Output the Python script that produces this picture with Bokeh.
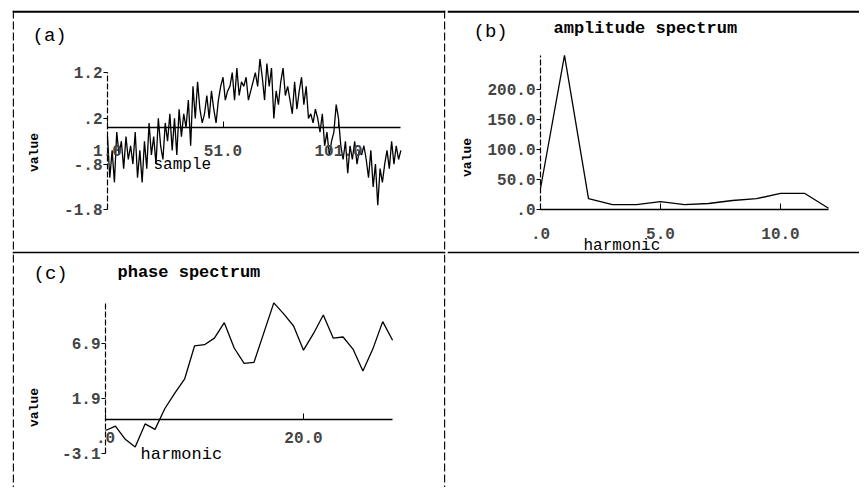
import math
from bokeh.plotting import figure
from bokeh.models import Range1d, LinearAxis, FixedTicker, Label, Span
from bokeh.layouts import column, row
from bokeh.embed import file_html
from bokeh.resources import INLINE

# ---------------- data ----------------
sample_n = list(range(1, 129))
signal = [-0.2, -1.1, -0.5, -1.2, -0.1, -0.6, -0.3, -0.9,
          -0.2, -0.7, -0.4, -0.8, -0.1, -1.1, -0.5, -1.2,
          -0.3, -0.9, 0.1, -0.6, -0.2, -0.8, 0.2, -0.4,
          -0.7, 0.1, -0.3, 0.3, -0.5, 0.2, -0.6, 0.4,
          -0.2, 0.3, 0.0, 0.6, -0.4, 0.9, 0.2, 1.0,
          0.4, 0.1, 0.3, 0.7, 0.2, 0.8, 0.4, 0.1,
          0.6, 0.9, 1.1, 0.6, 0.8, 0.9, 1.2, 0.6,
          1.3, 0.7, 1.0, 0.9, 1.1, 0.6, 0.8, 1.0,
          1.2, 0.9, 1.5, 1.1, 0.6, 1.4, 0.9, 1.3,
          0.2, 0.8, 0.5, 1.0, 1.3, 0.7, 0.9, 0.6,
          0.3, 1.0, 0.4, 0.8, 1.1, 0.5, 0.9, 0.2,
          0.3, 0.1, 0.4, 0.2, -0.1, 0.3, -0.4, -0.1,
          -0.6, -0.3, -0.1, 0.5, 0.2, -0.4, -0.7, -0.3,
          -1.0, -0.4, -0.7, -0.3, -0.8, -0.5, -0.6, -0.4,
          -0.7, -1.1, -0.5, -1.3, -0.8, -1.7, -0.9, -1.2,
          -0.8, -0.5, -0.9, -0.3, -0.8, -0.4, -0.7, -0.5]

harm_b = list(range(0, 13))
amplitude = [35, 257, 18, 8, 8, 13, 8, 10, 15, 18, 27, 27, 2]

harm_c = list(range(0, 30))
phase = [-1.0, -0.6, -1.8, -2.5, -0.4, -0.9, 1.0, 2.4, 3.7, 6.7,
         6.8, 7.4, 8.8, 6.5, 5.1, 5.2, 7.9, 10.6, 9.6, 8.5,
         6.3, 7.8, 9.5, 7.4, 7.5, 6.4, 4.4, 6.4, 8.9, 7.2]

a_xticks = [1, 51, 101]
a_xlabels = ["1.0", "51.0", "101.0"]
a_yticks = [-1.8, -0.8, 0.2, 1.2]
a_ylabels = ["-1.8", "-.8", ".2", "1.2"]
b_xticks = [0, 5, 10]
b_xlabels = [".0", "5.0", "10.0"]
b_yticks = [0, 50, 100, 150, 200]
b_ylabels = [".0", "50.0", "100.0", "150.0", "200.0"]
c_xticks = [0, 20]
c_xlabels = [".0", "20.0"]
c_yticks = [-3.1, 1.9, 6.9]
c_ylabels = ["-3.1", "1.9", "6.9"]

MONO = "Liberation Mono"


def panel(left, top, width, height, mb, x_org_px, x_org_val, x_ppu, y_org_px, y_ppu):
    fl = left + mb[0]
    fr = left + width - mb[1]
    ft = top + mb[2]
    fb = top + height - mb[3]
    xr = Range1d(x_org_val - (x_org_px - fl) / x_ppu, x_org_val + (fr - x_org_px) / x_ppu)
    yr = Range1d(-(fb - y_org_px) / y_ppu, (y_org_px - ft) / y_ppu)
    p = figure(width=width, height=height, x_range=xr, y_range=yr,
               output_backend="svg", toolbar_location=None, title=None,
               x_axis_type=None, y_axis_type=None,
               min_border_left=mb[0], min_border_right=mb[1],
               min_border_top=mb[2], min_border_bottom=mb[3])
    p.xgrid.visible = False
    p.ygrid.visible = False
    p.outline_line_color = None
    p.background_fill_color = "white"
    p.border_fill_color = "white"

    def at(px, py):
        return (xr.start + (px - fl) / x_ppu, yr.end - (py - ft) / y_ppu)
    return p, xr, yr, at, x_ppu, y_ppu


def add_axes(p, x_at, xticks, xlabels, xbounds, x_standoff, yticks, ylabels, ybounds):
    xa = LinearAxis(ticker=FixedTicker(ticks=xticks),
                    major_label_overrides={t: l for t, l in zip(xticks, xlabels)},
                    fixed_location=0, bounds=xbounds)
    xa.major_tick_in = 6
    xa.major_tick_out = 0
    xa.minor_tick_line_color = None
    xa.axis_line_width = 1.6
    xa.major_label_text_font = MONO
    xa.major_label_text_font_style = "bold"
    xa.major_label_text_font_size = "16px"
    xa.major_label_text_align = "left"
    xa.major_label_standoff = x_standoff
    p.add_layout(xa, "below")

    ya = LinearAxis(ticker=FixedTicker(ticks=yticks),
                    major_label_overrides={t: l for t, l in zip(yticks, ylabels)},
                    fixed_location=x_at, bounds=ybounds)
    ya.major_tick_in = 0
    ya.major_tick_out = 4
    ya.minor_tick_line_color = None
    ya.axis_line_width = 1.2
    ya.axis_line_dash = "6 2"
    ya.major_label_text_font = MONO
    ya.major_label_text_font_style = "bold"
    ya.major_label_text_font_size = "16px"
    ya.major_label_standoff = 1
    ya.major_label_text_baseline = "alphabetic"
    p.add_layout(ya, "left")


def txt(p, at, px, py, text, size, style="normal", align="left", angle=0.0):
    x, y = at(px, py)
    p.add_layout(Label(x=x, y=y, text=text, text_font=MONO, text_font_size=size,
                       text_font_style=style, text_align=align,
                       text_baseline="middle", angle=angle, text_color="black"))


def border(p, loc, dim, width, dash="solid"):
    p.add_layout(Span(location=loc, dimension=dim, line_color="black",
                      line_width=width, line_dash=dash))


def frame_lines(p, xr, yr, xppu, yppu, sides):
    if "top" in sides:
        border(p, yr.end - 1.1 / yppu, "width", 2.2)
    if "bottom" in sides:
        border(p, yr.start + 0.9 / yppu, "width", 1.6)
    if "left" in sides:
        border(p, xr.start + 0.8 / xppu, "height", 1.3, "8 3")
    if "right" in sides:
        border(p, xr.end - 0.8 / xppu, "height", 1.3, "8 3")


# ---------------- panel (a) ----------------
pa, xra, yra, at_a, xpa, ypa = panel(0, 0, 447, 254, (12, 2, 10, 1), 107, 1, 2.31, 127, 45.7)
add_axes(pa, 1, a_xticks, a_xlabels, (1, 128), 17, a_yticks, a_ylabels, (-1.8, 1.2))
pa.line(sample_n, signal, line_color="black", line_width=1.3)
frame_lines(pa, xra, yra, xpa, ypa, ("top", "bottom", "left", "right"))
txt(pa, at_a, 32, 35, "(a)", "19px")
txt(pa, at_a, 34, 152, "value", "13px", "bold", "center", math.pi / 2)
txt(pa, at_a, 153, 164, "sample", "16px")

# ---------------- panel (b) ----------------
pb, xrb, yrb, at_b, xpb, ypb = panel(447, 0, 412, 254, (0, 0, 10, 1), 540, 0, 24.0, 209, 0.6)
add_axes(pb, 0, b_xticks, b_xlabels, (0, 12), 18, b_yticks, b_ylabels, (0, 257))
pb.line(harm_b, amplitude, line_color="black", line_width=1.3)
frame_lines(pb, xrb, yrb, xpb, ypb, ("top", "bottom"))
txt(pb, at_b, 473, 31, "(b)", "19px")
txt(pb, at_b, 553, 28, "amplitude spectrum", "17px", "bold")
txt(pb, at_b, 467, 157, "value", "13px", "bold", "center", math.pi / 2)
txt(pb, at_b, 583, 245, "harmonic", "16px")

# ---------------- panel (c) ----------------
pc, xrc, yrc, at_c, xpc, ypc = panel(0, 254, 447, 233, (12, 2, 0, 0), 105, 0, 9.9, 419, 11.0)
add_axes(pc, 0, c_xticks, c_xlabels, (0, 29), 12, c_yticks, c_ylabels, (-3.1, 10.6))
pc.line(harm_c, phase, line_color="black", line_width=1.3)
frame_lines(pc, xrc, yrc, xpc, ypc, ("left", "right"))
txt(pc, at_c, 33, 273, "(c)", "19px")
txt(pc, at_c, 117, 272, "phase spectrum", "17px", "bold")
txt(pc, at_c, 34, 407, "value", "13px", "bold", "center", math.pi / 2)
txt(pc, at_c, 140, 454, "harmonic", "17px")

layout = column(row(pa, pb), pc)
open("out.html", "w").write(file_html(layout, INLINE))
